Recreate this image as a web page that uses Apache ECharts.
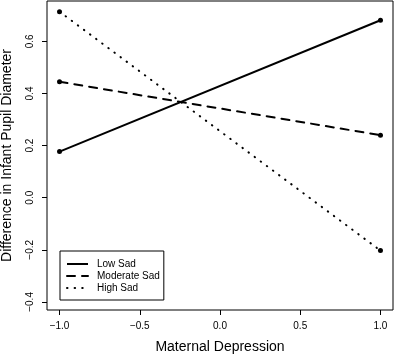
<!DOCTYPE html>
<html>
<head>
<meta charset="utf-8">
<script src="https://cdn.jsdelivr.net/npm/echarts@6/dist/echarts.min.js"></script>
<style>
  html, body { margin: 0; padding: 0; background: #fff; }
  #chart { width: 394px; height: 357px; }
</style>
</head>
<body>
<div id="chart"></div>
<script>
// maternal depression at -1 / +1 SD
const xValues = [-1, 1];
const lowSad = [0.177, 0.681];
const moderateSad = [0.445, 0.240];
const highSad = [0.714, -0.203];
const xTicks = [-1, -0.5, 0, 0.5, 1];
const yTicks = [-0.4, -0.2, 0, 0.2, 0.4, 0.6];

const FONT = 'Liberation Sans, Arial, sans-serif';
const fmt = v => (v < 0 ? '\u2212' : '') + Math.abs(v).toFixed(1);

const pairs = arr => xValues.map((x, i) => [x, arr[i]]);

const lineSeries = (name, arr, type) => ({
  name,
  type: 'line',
  data: pairs(arr),
  symbol: 'circle',
  symbolSize: 5,
  itemStyle: { color: '#000' },
  lineStyle: { color: '#000', width: 2, type, cap: type === 'solid' ? 'butt' : 'round' },
  emphasis: { disabled: true },
  animation: false
});

const chart = echarts.init(document.getElementById('chart'), null, { renderer: 'canvas' });
chart.setOption({
  animation: false,
  grid: {
    left: 47, right: 1, top: 1, bottom: 47,
    show: true, borderColor: '#000', borderWidth: 1,
    containLabel: false, outerBoundsMode: 'none'
  },
  xAxis: {
    type: 'value',
    min: -1.078, max: 1.078,
    name: 'Maternal Depression',
    nameLocation: 'middle',
    nameGap: 30,
    nameTextStyle: { fontFamily: FONT, fontSize: 14, color: '#000' },
    axisLine: { show: false, onZero: false },
    axisTick: { show: true, length: 5, lineStyle: { color: '#000' }, customValues: xTicks },
    axisLabel: { color: '#000', fontFamily: FONT, fontSize: 10, margin: 11, customValues: xTicks, formatter: fmt },
    splitLine: { show: false }
  },
  yAxis: {
    type: 'value',
    min: -0.431, max: 0.755,
    name: 'Difference in Infant Pupil Diameter',
    nameLocation: 'middle',
    nameGap: 33,
    nameTextStyle: { fontFamily: FONT, fontSize: 14, color: '#000' },
    axisLine: { show: false, onZero: false },
    axisTick: { show: true, length: 5, lineStyle: { color: '#000' }, customValues: yTicks },
    axisLabel: { color: '#000', fontFamily: FONT, fontSize: 10, margin: 12, rotate: 90, customValues: yTicks, formatter: fmt },
    splitLine: { show: false }
  },
  legend: {
    left: 60, top: 251,
    orient: 'vertical',
    itemWidth: 21, itemHeight: 12, itemGap: 0,
    padding: [7, 4, 6, 6],
    borderColor: '#000', borderWidth: 1,
    itemStyle: { opacity: 0 },
    textStyle: { fontFamily: FONT, fontSize: 10, color: '#000', padding: [0, 0, 0, 4], lineHeight: 12 },
    selectedMode: false,
    data: ['Low Sad', 'Moderate Sad', 'High Sad']
  },
  series: [
    lineSeries('Low Sad', lowSad, 'solid'),
    lineSeries('Moderate Sad', moderateSad, [8, 7]),
    lineSeries('High Sad', highSad, [0.5, 7.1])
  ]
});
</script>
</body>
</html>
